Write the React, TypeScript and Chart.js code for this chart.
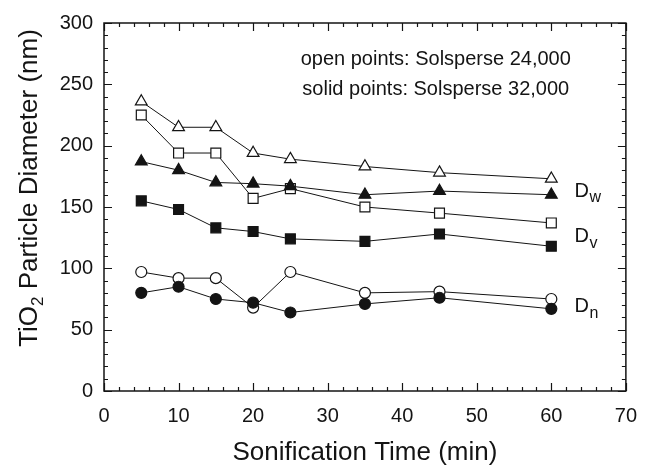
import React, { useEffect, useRef } from "react";
import { Chart, registerables } from "chart.js";

Chart.register(...registerables);

const times = [5, 10, 15, 20, 25, 35, 45, 60];
const dwOpen = [236, 215, 215, 194, 189, 183, 178, 173];
const dvOpen = [225, 194, 194, 157, 165, 150, 145, 137];
const dnOpen = [97, 92, 92, 68, 97, 80, 81, 75];
const dwSolid = [187, 180, 170, 169, 167, 160, 163, 160];
const dvSolid = [155, 148, 133, 130, 124, 122, 128, 118];
const dnSolid = [80, 85, 75, 72, 64, 71, 76, 67];

const xTitle = "Sonification Time (min)";
const yTitleParts = ["TiO", "2", " Particle Diameter (nm)"];
const noteLines = ["open points: Solsperse 24,000", "solid points: Solsperse 32,000"];
const noteX = 44.5;
const noteY = [270, 246];
const seriesLabels = ["w", "v", "n"];
const seriesLabelX = 63.1;
const seriesLabelY = [163, 126, 68.5];

const FONT = "'Liberation Sans', Arial, Helvetica, sans-serif";
const INK = "#141414";

const toPts = (vals: number[]) => times.map((t, i) => ({ x: t, y: vals[i] }));

const decorPlugin = {
  id: "decor",
  afterDraw(chart: any) {
    const { ctx, chartArea: a, scales } = chart;
    const xs = scales.x;
    const ys = scales.y;
    ctx.save();
    // frame
    ctx.strokeStyle = INK;
    ctx.lineWidth = 1.5;
    ctx.strokeRect(a.left, a.top, a.right - a.left, a.bottom - a.top);
    // ticks
    ctx.lineWidth = 1.2;
    ctx.beginPath();
    for (let v = 0; v <= 70; v += 2) {
      const px = Math.round(xs.getPixelForValue(v)) + 0.5;
      const len = v % 10 === 0 ? 8 : 4;
      ctx.moveTo(px, a.bottom);
      ctx.lineTo(px, a.bottom - len);
      ctx.moveTo(px, a.top);
      ctx.lineTo(px, a.top + len);
    }
    for (let v = 0; v <= 300; v += 10) {
      const py = Math.round(ys.getPixelForValue(v)) + 0.5;
      const len = v % 50 === 0 ? 8 : 4;
      ctx.moveTo(a.left, py);
      ctx.lineTo(a.left + len, py);
      ctx.moveTo(a.right, py);
      ctx.lineTo(a.right - len, py);
    }
    ctx.stroke();

    ctx.fillStyle = INK;
    // x title
    ctx.font = `26px ${FONT}`;
    ctx.textAlign = "center";
    ctx.textBaseline = "alphabetic";
    ctx.fillText(xTitle, (a.left + a.right) / 2, 460);

    // y title rotated with subscript
    ctx.save();
    ctx.translate(37, 188);
    ctx.rotate(-Math.PI / 2);
    ctx.textAlign = "left";
    const big = `26px ${FONT}`;
    const small = `17px ${FONT}`;
    ctx.font = big;
    const w0 = ctx.measureText(yTitleParts[0]).width;
    const w2 = ctx.measureText(yTitleParts[2]).width;
    ctx.font = small;
    const w1 = ctx.measureText(yTitleParts[1]).width;
    let x0 = -(w0 + w1 + w2) / 2;
    ctx.font = big;
    ctx.fillText(yTitleParts[0], x0, 0);
    x0 += w0;
    ctx.font = small;
    ctx.fillText(yTitleParts[1], x0, 6);
    x0 += w1;
    ctx.font = big;
    ctx.fillText(yTitleParts[2], x0, 0);
    ctx.restore();

    // notes
    ctx.font = `20px ${FONT}`;
    ctx.textAlign = "center";
    ctx.textBaseline = "middle";
    noteLines.forEach((t, i) => {
      ctx.fillText(t, xs.getPixelForValue(noteX), ys.getPixelForValue(noteY[i]));
    });

    // D labels
    seriesLabels.forEach((s, i) => {
      const px = xs.getPixelForValue(seriesLabelX);
      const py = ys.getPixelForValue(seriesLabelY[i]);
      ctx.textAlign = "left";
      ctx.textBaseline = "middle";
      ctx.font = `20px ${FONT}`;
      ctx.fillText("D", px, py);
      const wd = ctx.measureText("D").width;
      ctx.font = `16px ${FONT}`;
      ctx.fillText(s, px + wd + 0.5, py + 7);
    });
    ctx.restore();
  },
};

function ds(vals: number[], style: string, solid: boolean, radius: number) {
  return {
    data: toPts(vals),
    borderColor: INK,
    borderWidth: 1,
    pointStyle: style,
    pointRadius: radius,
    pointBorderWidth: 1.2,
    pointBorderColor: INK,
    pointBackgroundColor: solid ? INK : "#ffffff",
    fill: false,
    tension: 0,
    showLine: true,
  };
}

export default function App() {
  const ref = useRef<HTMLCanvasElement | null>(null);
  useEffect(() => {
    if (!ref.current) return;
    const chart = new Chart(ref.current, {
      type: "line",
      data: {
        datasets: [
          ds(dnSolid, "circle", true, 5.5),
          ds(dvSolid, "rect", true, 7),
          ds(dwSolid, "triangle", true, 6.8),
          ds(dnOpen, "circle", false, 5.5),
          ds(dvOpen, "rect", false, 7),
          ds(dwOpen, "triangle", false, 6.8),
        ] as any,
      },
      options: {
        animation: false,
        responsive: false,
        maintainAspectRatio: false,
        layout: { padding: { left: 0, right: 15, top: 19, bottom: 0 } },
        plugins: { legend: { display: false }, tooltip: { enabled: false } },
        scales: {
          x: {
            type: "linear",
            min: 0,
            max: 70,
            ticks: { stepSize: 10, font: { size: 20, family: FONT }, color: INK, padding: 13, maxRotation: 0 },
            grid: { display: false, drawTicks: false, tickLength: 0 },
            border: { display: false },
            afterFit: (s: any) => { s.height = 74; },
          },
          y: {
            type: "linear",
            min: 0,
            max: 300,
            ticks: { stepSize: 50, font: { size: 20, family: FONT }, color: INK, padding: 11 },
            grid: { display: false, drawTicks: false, tickLength: 0 },
            border: { display: false },
            afterFit: (s: any) => { s.width = 104; },
          },
        },
      },
      plugins: [decorPlugin],
    } as any);
    return () => chart.destroy();
  }, []);
  return (
    <div style={{ position: "absolute", left: 0, top: 0, width: 650, height: 465, background: "#fff" }}>
      <canvas ref={ref} width={650} height={465} style={{ display: "block" }} />
    </div>
  );
}
